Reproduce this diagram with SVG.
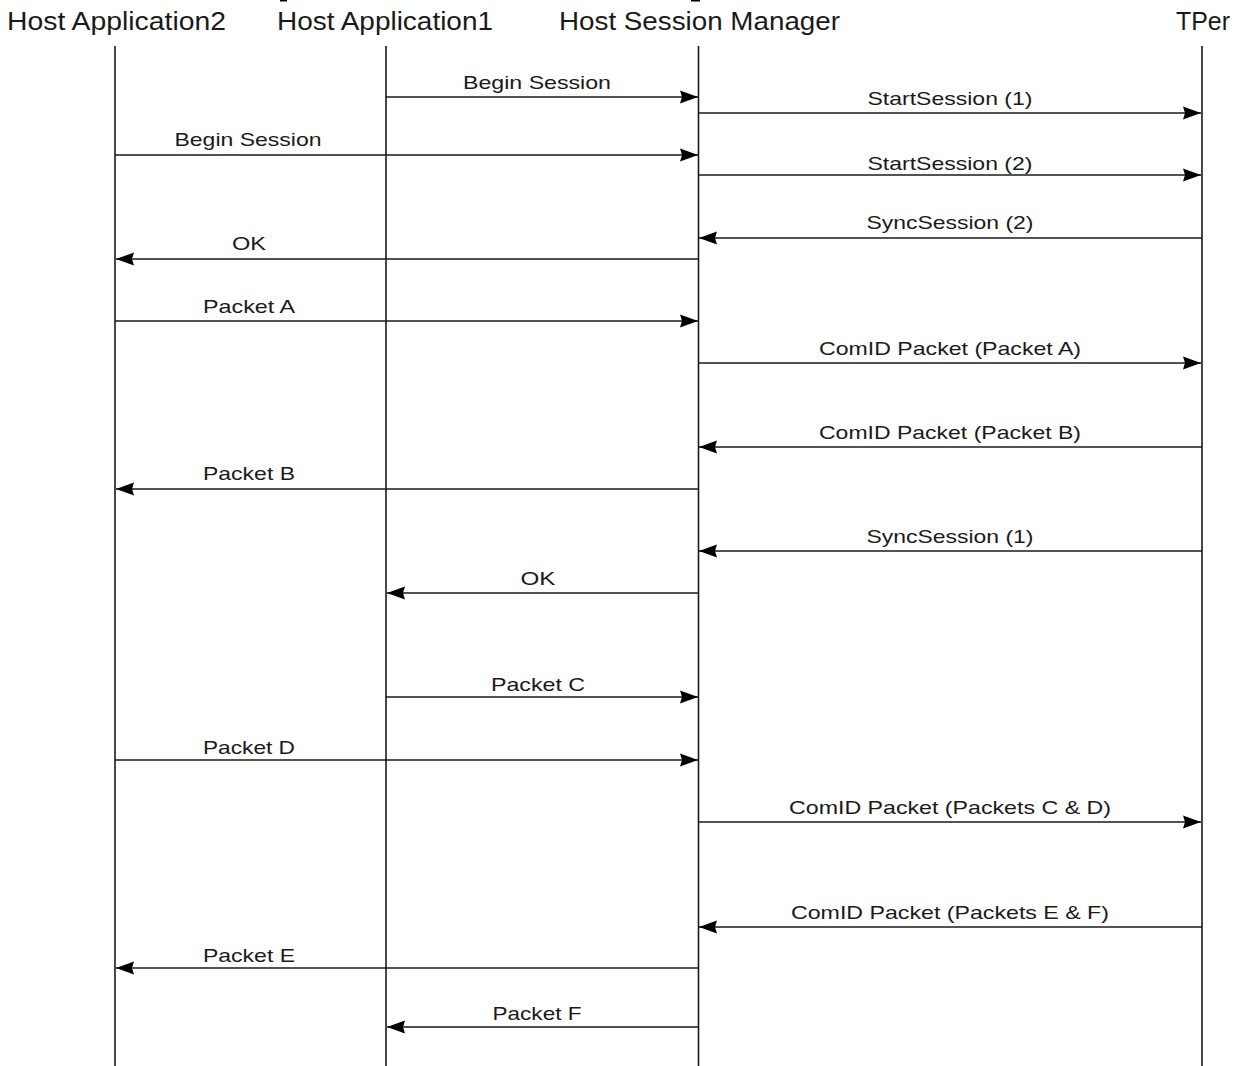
<svg xmlns="http://www.w3.org/2000/svg" width="1246" height="1066" viewBox="0 0 1246 1066">
  <style>
    .head { font-family: "Liberation Sans", Arial, sans-serif; font-size: 26px; fill: #1a1a1a; }
    .lbl { font-family: "Liberation Sans", Arial, sans-serif; font-size: 19px; fill: #1a1a1a; text-anchor: middle; }
    .life { stroke: #1a1a1a; stroke-width: 1.6; fill: none; }
    .msg { stroke: #1a1a1a; stroke-width: 1.6; fill: none; marker-end: url(#head); }
  </style>
  <defs>
    <marker id="head" markerUnits="userSpaceOnUse" markerWidth="22" markerHeight="16" refX="20" refY="7" orient="auto">
      <path d="M20,7 L2,0.5 L4,7 L2,13.5 Z" fill="#000"/>
    </marker>
  </defs>
  <rect width="1246" height="1066" fill="#fff"/>

  <!-- small marks along the top edge -->
  <rect x="280" y="0" width="7" height="1.5" fill="#000"/>
  <rect x="691" y="0" width="9" height="1.5" fill="#000"/>

  <!-- participants with lifelines -->
  <g id="host-app-2">
    <text class="head" x="7" y="30" textLength="219" lengthAdjust="spacingAndGlyphs">Host Application2</text>
    <line class="life" x1="115" y1="46" x2="115" y2="1066"/>
  </g>
  <g id="host-app-1">
    <text class="head" x="277" y="30" textLength="216" lengthAdjust="spacingAndGlyphs">Host Application1</text>
    <line class="life" x1="386" y1="46" x2="386" y2="1066"/>
  </g>
  <g id="host-session-manager">
    <text class="head" x="559" y="30" textLength="281" lengthAdjust="spacingAndGlyphs">Host Session Manager</text>
    <line class="life" x1="698.5" y1="46" x2="698.5" y2="1066"/>
  </g>
  <g id="tper">
    <text class="head" x="1176" y="30" textLength="54" lengthAdjust="spacingAndGlyphs">TPer</text>
    <line class="life" x1="1202" y1="46" x2="1202" y2="1066"/>
  </g>

  <!-- messages -->
  <g id="connectors">
    <line class="msg" x1="386" y1="97" x2="698" y2="97"/>
    <text class="lbl" x="537" y="89" textLength="148" lengthAdjust="spacingAndGlyphs">Begin Session</text>

    <line class="msg" x1="698" y1="113" x2="1201" y2="113"/>
    <text class="lbl" x="950" y="105" textLength="165" lengthAdjust="spacingAndGlyphs">StartSession (1)</text>

    <line class="msg" x1="115" y1="155" x2="698" y2="155"/>
    <text class="lbl" x="248" y="146" textLength="147" lengthAdjust="spacingAndGlyphs">Begin Session</text>

    <line class="msg" x1="698" y1="175" x2="1201" y2="175"/>
    <text class="lbl" x="950" y="170" textLength="165" lengthAdjust="spacingAndGlyphs">StartSession (2)</text>

    <line class="msg" x1="1202" y1="238" x2="699" y2="238"/>
    <text class="lbl" x="950" y="229" textLength="167" lengthAdjust="spacingAndGlyphs">SyncSession (2)</text>

    <line class="msg" x1="698" y1="259" x2="116" y2="259"/>
    <text class="lbl" x="249" y="250" textLength="34" lengthAdjust="spacingAndGlyphs">OK</text>

    <line class="msg" x1="115" y1="321" x2="698" y2="321"/>
    <text class="lbl" x="249" y="313" textLength="92" lengthAdjust="spacingAndGlyphs">Packet A</text>

    <line class="msg" x1="698" y1="363" x2="1201" y2="363"/>
    <text class="lbl" x="950" y="355" textLength="262" lengthAdjust="spacingAndGlyphs">ComID Packet (Packet A)</text>

    <line class="msg" x1="1202" y1="447" x2="699" y2="447"/>
    <text class="lbl" x="950" y="439" textLength="262" lengthAdjust="spacingAndGlyphs">ComID Packet (Packet B)</text>

    <line class="msg" x1="698" y1="489" x2="116" y2="489"/>
    <text class="lbl" x="249" y="480" textLength="92" lengthAdjust="spacingAndGlyphs">Packet B</text>

    <line class="msg" x1="1202" y1="551" x2="699" y2="551"/>
    <text class="lbl" x="950" y="543" textLength="167" lengthAdjust="spacingAndGlyphs">SyncSession (1)</text>

    <line class="msg" x1="698" y1="593" x2="387" y2="593"/>
    <text class="lbl" x="538" y="585" textLength="35" lengthAdjust="spacingAndGlyphs">OK</text>

    <line class="msg" x1="386" y1="697" x2="698" y2="697"/>
    <text class="lbl" x="538" y="691" textLength="94" lengthAdjust="spacingAndGlyphs">Packet C</text>

    <line class="msg" x1="115" y1="760" x2="698" y2="760"/>
    <text class="lbl" x="249" y="754" textLength="92" lengthAdjust="spacingAndGlyphs">Packet D</text>

    <line class="msg" x1="698" y1="822" x2="1201" y2="822"/>
    <text class="lbl" x="950" y="814" textLength="322" lengthAdjust="spacingAndGlyphs">ComID Packet (Packets C &amp; D)</text>

    <line class="msg" x1="1202" y1="927" x2="699" y2="927"/>
    <text class="lbl" x="950" y="919" textLength="318" lengthAdjust="spacingAndGlyphs">ComID Packet (Packets E &amp; F)</text>

    <line class="msg" x1="698" y1="968" x2="116" y2="968"/>
    <text class="lbl" x="249" y="962" textLength="92" lengthAdjust="spacingAndGlyphs">Packet E</text>

    <line class="msg" x1="698" y1="1027" x2="387" y2="1027"/>
    <text class="lbl" x="537" y="1020" textLength="89" lengthAdjust="spacingAndGlyphs">Packet F</text>
  </g>
</svg>
